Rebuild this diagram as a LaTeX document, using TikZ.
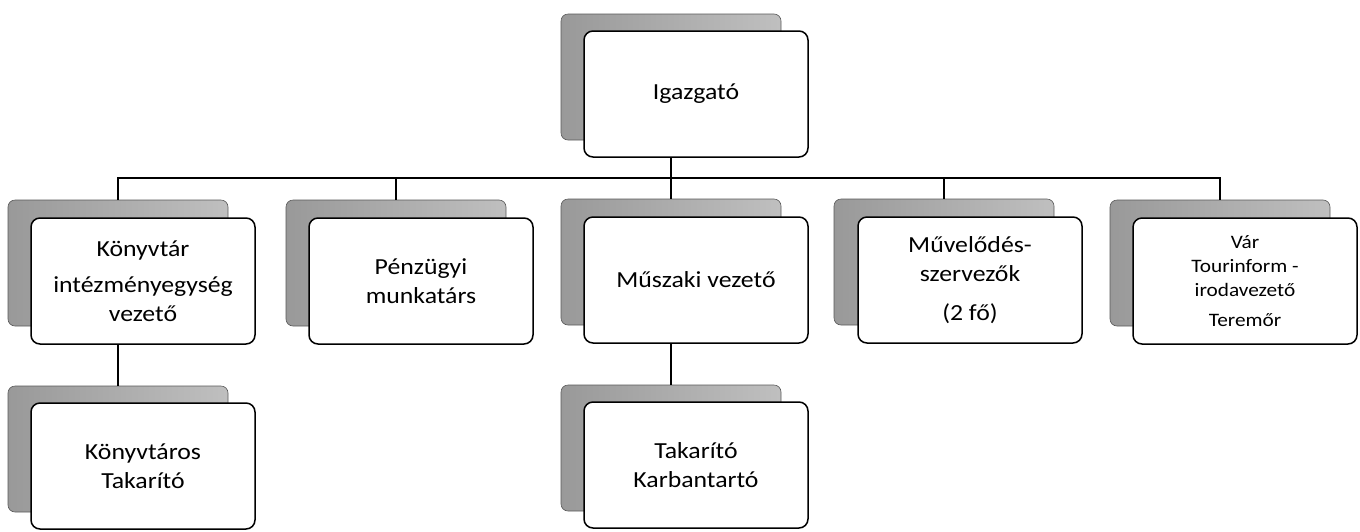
\documentclass[tikz,border=0pt]{standalone}
\usepackage{fontspec}
\setmainfont{Carlito}[FakeStretch=1.12]
\begin{document}
\begin{tikzpicture}[x=1pt,y=-1pt,
  back/.style={rectangle, rounded corners=7pt, inner sep=0pt, minimum width=220pt, minimum height=126pt,
    left color=gray!80, right color=gray!50, draw=gray!70!black, line width=0.6pt},
  front/.style={rectangle, rounded corners=9pt, inner sep=0pt, minimum width=224pt, minimum height=126pt,
    fill=white, draw=black, line width=1.5pt, align=center, font=\fontsize{23}{29}\selectfont},
  small/.style={font=\fontsize{19}{24}\selectfont},
  link/.style={draw=black, line width=1.7pt}]
\useasboundingbox (0,0) rectangle (1360,531);
% top
\node[back]  (igB) at (671,77) {};
\node[front] (ig)  at (696,94) {Igazgató};
% row 1
\node[back]  (konyvB) at (118,263) {};
\node[front] (konyv)  at (143,281) {Könyvtár\\[7pt]intézményegység\\vezető};
\node[back]  (penzB) at (396,263) {};
\node[front] (penz)  at (421,281) {Pénzügyi\\munkatárs};
\node[back]  (muszB) at (671,262) {};
\node[front] (musz)  at (696,280) {Műszaki vezető};
\node[back]  (muvB) at (944,262) {};
\node[front] (muv)  at (970,280) {Művelődés-\\szervezők\\[10pt](2 fő)};
\node[back]  (varB) at (1220,263) {};
\node[front,small] (var)  at (1245,281) {Vár\\Tourinform -\\irodavezető\\[6pt]Teremőr};
% row 2
\node[back]  (kosB) at (118,449) {};
\node[front] (kos)  at (143,466) {Könyvtáros\\Takarító};
\node[back]  (takB) at (671,448) {};
\node[front] (tak)  at (696,465) {Takarító\\Karbantartó};
% connectors
\coordinate (bus) at (0,178);
\draw[link] (igB.center |- ig.south) -- (igB.center |- bus) -| (konyvB.north);
\draw[link] (igB.center |- bus) -| (penzB.north);
\draw[link] (igB.center |- bus) -- (muszB.north);
\draw[link] (igB.center |- bus) -| (muvB.north);
\draw[link] (igB.center |- bus) -| (varB.north);
\draw[link] (konyvB.center |- konyv.south) -- (kosB.north);
\draw[link] (muszB.center |- musz.south) -- (takB.north);
\end{tikzpicture}
\end{document}
